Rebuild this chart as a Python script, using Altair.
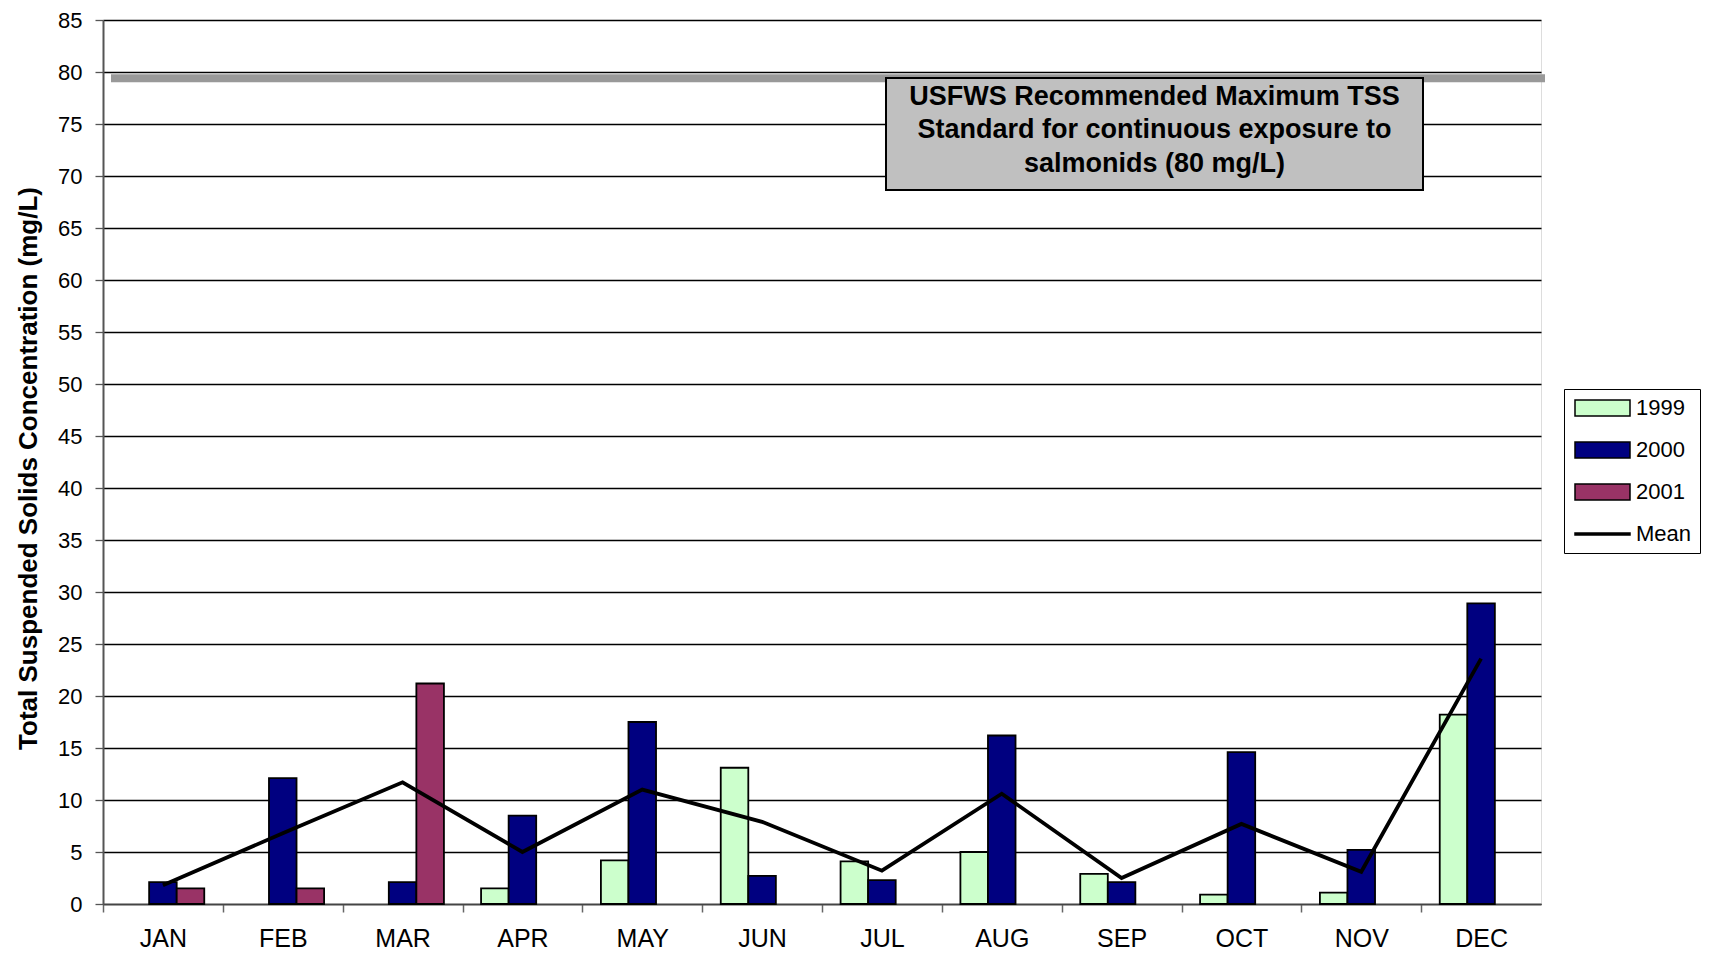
import altair as alt
import pandas as pd

months = ["JAN", "FEB", "MAR", "APR", "MAY", "JUN", "JUL", "AUG", "SEP", "OCT", "NOV", "DEC"]
years = ["1999", "2000", "2001"]
tss_1999 = [None, None, None, 1.5, 4.2, 13.1, 4.1, 5.0, 2.9, 0.9, 1.1, 18.2]
tss_2000 = [2.1, 12.1, 2.1, 8.5, 17.5, 2.7, 2.3, 16.2, 2.1, 14.6, 5.2, 28.9]
tss_2001 = [1.5, 1.5, 21.2, None, None, None, None, None, None, None, None, None]
tss_mean = [1.8, 6.8, 11.7, 5.0, 11.0, 7.9, 3.2, 10.6, 2.5, 7.7, 3.1, 23.6]
y_ticks = list(range(0, 90, 5))
threshold = [79.4]
note_lines = ["USFWS Recommended Maximum TSS",
              "Standard for continuous exposure to",
              "salmonids (80 mg/L)"]
series_names = ["1999", "2000", "2001", "Mean"]
series_colors = ["#CCFFCC", "#000080", "#993366", "#000000"]

FONT = "Liberation Sans"
W, H = 1438, 884
STEP = W / 12

rows = []
for yr, vals in zip(years, [tss_1999, tss_2000, tss_2001]):
    for m, v in zip(months, vals):
        if v is not None:
            rows.append({"month": m, "series": yr, "value": v})
bars_df = pd.DataFrame(rows)
mean_df = pd.DataFrame({"month": months, "value": tss_mean})
thr_df = pd.DataFrame({"value": threshold})

x_enc = alt.X(
    "month:N", sort=months,
    scale=alt.Scale(domain=months, paddingInner=0.31, paddingOuter=0.155),
    axis=alt.Axis(title=None, bandPosition=0.5, tickOffset=-STEP / 2, labelOffset=STEP / 2,
                  labelAngle=0, labelFontSize=25, labelColor="black", labelFont=FONT,
                  labelPadding=14, tickSize=8, tickColor="#666666", tickWidth=1.5,
                  domainColor="#444444", domainWidth=1.5, grid=False),
)
y_enc = alt.Y(
    "value:Q",
    scale=alt.Scale(domain=[0, 85], nice=False, zero=True),
    axis=alt.Axis(values=y_ticks, grid=True, gridColor="black", gridWidth=1.3,
                  domainColor="#555555", domainWidth=2, tickColor="#555555", tickSize=8,
                  tickWidth=1.3, labelFontSize=22, labelColor="black", labelFont=FONT,
                  labelPadding=13,
                  title="Total Suspended Solids Concentration (mg/L)", titleFontSize=26,
                  titleFontWeight="bold", titleFont=FONT, titleColor="black",
                  titleX=-67, titleY=448, titleBaseline="alphabetic", titleAngle=270),
)

# symbol size 256 -> 16 px unit square; paths stretch right to form 55x16 swatches
legend = alt.Legend(title=None, orient="none", legendX=1461, legendY=369, padding=8,
                    strokeColor="black", fillColor="white", labelFontSize=22, labelFont=FONT,
                    labelColor="black", labelOffset=42, rowPadding=20,
                    symbolStrokeWidth=1.5, symbolSize=256, symbolOpacity=1)
color_scale = alt.Scale(domain=series_names, range=series_colors)
outline_scale = alt.Scale(domain=series_names, range=["#000000"] * len(series_names))
rect_path = "M-1,-1L5.875,-1L5.875,1L-1,1Z"
line_path = "M-1,-0.12L5.875,-0.12L5.875,0.12L-1,0.12Z"
shape_scale = alt.Scale(domain=series_names, range=[rect_path, rect_path, rect_path, line_path])

bars = alt.Chart(bars_df).mark_bar(stroke="black", strokeWidth=1.8).encode(
    x=x_enc,
    xOffset=alt.XOffset("series:N", scale=alt.Scale(domain=years, paddingInner=0, paddingOuter=0)),
    y=y_enc,
    color=alt.Color("series:N", scale=color_scale, legend=legend),
)

mean_line = alt.Chart(mean_df).mark_line(color="black", strokeWidth=3.8).encode(
    x=x_enc, y=y_enc,
)

legend_pts = alt.Chart(alt.Data(values=[])).mark_point(
    filled=True, opacity=1, strokeWidth=1.5
).encode(
    color=alt.Color("series:N", scale=color_scale, legend=legend),
    shape=alt.Shape("series:N", scale=shape_scale, legend=legend),
    stroke=alt.Stroke("series:N", scale=outline_scale, legend=legend),
)

thr_rule = alt.Chart(thr_df).mark_rule(color="#999999", strokeWidth=8).encode(
    y=y_enc, x=alt.value(8), x2=alt.value(W + 4),
)

note_box = alt.Chart(alt.Data(values=[{}])).mark_rect(
    fill="#C0C0C0", stroke="black", strokeWidth=2
).encode(x=alt.value(783), x2=alt.value(1320), y=alt.value(58), y2=alt.value(170))

note_text = alt.Chart(alt.Data(values=[{}])).mark_text(
    text=note_lines, font=FONT, fontSize=27, fontWeight="bold", color="black",
    align="center", baseline="alphabetic", lineHeight=33.8,
).encode(x=alt.value(1051.5), y=alt.value(84.7))

chart = alt.layer(thr_rule, bars, mean_line, note_box, note_text, legend_pts).properties(
    width=W, height=H,
    padding={"left": 95, "top": 12, "right": 160, "bottom": 43},
    autosize=alt.AutoSizeParams(type="none"),
).configure_view(stroke="#999999", strokeWidth=2).configure(font=FONT, background="white")

chart.save("out.html", embed_options={"renderer": "svg", "actions": False})
